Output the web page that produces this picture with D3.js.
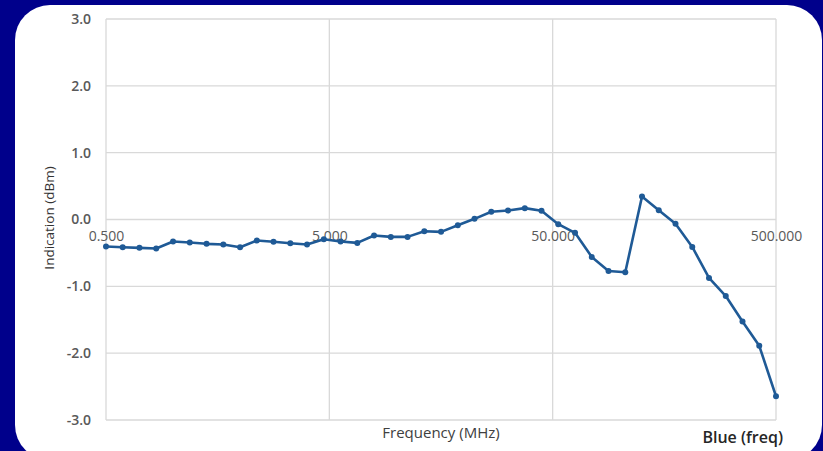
<!DOCTYPE html>
<html>
<head>
<meta charset="utf-8">
<script src="https://cdn.jsdelivr.net/npm/d3@7"></script>
<style>
    body { margin: 0; background: #00008b; }
    svg { display: block; }
</style>
</head>
<body>
<div id="chart"></div>
<script>
// frequencies in MHz (log spaced sweep) and the indication read at each one
var freqs = [0.5, 0.594, 0.706, 0.839, 0.998, 1.186, 1.41, 1.676, 1.992, 2.367,
    2.812, 3.343, 3.973, 4.722, 5.612, 6.67, 7.928, 9.423, 11.2, 13.31,
    15.82, 18.8, 22.34, 26.55, 31.55, 37.51, 44.57, 52.97, 62.96, 74.82,
    88.93, 105.7, 125.6, 149.3, 177.4, 210.9, 250.6, 297.9, 354.0, 420.7, 500];
var indication = [-0.405, -0.415, -0.424, -0.435, -0.33, -0.345, -0.364, -0.375, -0.415, -0.315,
    -0.334, -0.355, -0.375, -0.295, -0.33, -0.35, -0.24, -0.26, -0.26, -0.175,
    -0.185, -0.085, 0.01, 0.115, 0.135, 0.17, 0.13, -0.07, -0.2, -0.56,
    -0.77, -0.79, 0.345, 0.14, -0.065, -0.41, -0.875, -1.145, -1.525, -1.89, -2.645];
var xTicks = [0.5, 5, 50, 500];
var xTickLabels = ["0.500", "5.000", "50.000", "500.000"];
var yTicks = [-3, -2, -1, 0, 1, 2, 3];
var seriesName = "Blue (freq)";

var width = 823, height = 451;
var margin = {top: 19, bottom: 31, left: 106, right: 47};
var innerW = width - margin.left - margin.right;
var innerH = height - margin.top - margin.bottom;

var svg = d3.select("#chart")
    .append("svg")
    .attr("width", width)
    .attr("height", height)
    .style("font-family", "'Open Sans', sans-serif");

// white rounded panel
svg.append("rect")
    .attr("x", 15)
    .attr("y", 5)
    .attr("width", 807)
    .attr("height", 455)
    .attr("rx", 35)
    .attr("fill", "#ffffff");

var data = freqs.map(function(f, i) { return {freq: f, value: indication[i]}; });

var x = d3.scaleLog().domain([0.5, 500]).range([0, innerW]);
var y = d3.scaleLinear().domain([-3, 3]).range([innerH, 0]);

var g = svg.append("g")
    .attr("transform", "translate(" + margin.left + "," + margin.top + ")");

// grid (also forms the plot frame)
g.selectAll(".hgrid")
    .data(yTicks)
    .enter().append("line")
    .attr("class", "hgrid")
    .attr("x1", 0)
    .attr("x2", innerW)
    .attr("y1", function(d) { return y(d); })
    .attr("y2", function(d) { return y(d); })
    .attr("stroke", "#d9d9d9")
    .attr("stroke-width", 1.3);

g.selectAll(".vgrid")
    .data(xTicks)
    .enter().append("line")
    .attr("class", "vgrid")
    .attr("x1", function(d) { return x(d); })
    .attr("x2", function(d) { return x(d); })
    .attr("y1", 0)
    .attr("y2", innerH)
    .attr("stroke", "#d9d9d9")
    .attr("stroke-width", 1.3);

// y axis labels (plain hyphen for negatives, like the original)
var yAxis = d3.axisLeft(y)
    .tickValues(yTicks)
    .tickSize(0)
    .tickPadding(15)
    .tickFormat(function(d) { return d.toFixed(1); });

g.append("g")
    .attr("class", "y-axis")
    .call(yAxis)
    .call(function(a) { a.select(".domain").remove(); })
    .selectAll("text")
    .attr("fill", "#595959")
    .style("font-size", "14px")
    .style("font-weight", "600")
    .style("font-family", "'Open Sans', sans-serif");

// x axis labels sit on the zero line
var xAxis = d3.axisBottom(x)
    .tickValues(xTicks)
    .tickSize(0)
    .tickPadding(12)
    .tickFormat(function(d, i) { return xTickLabels[i]; });

g.append("g")
    .attr("class", "x-axis")
    .attr("transform", "translate(0," + y(0) + ")")
    .call(xAxis)
    .call(function(a) { a.select(".domain").remove(); })
    .selectAll("text")
    .attr("fill", "#595959")
    .style("font-size", "14px")
    .style("font-family", "'Open Sans', sans-serif");

// series
var line = d3.line()
    .x(function(d) { return x(d.freq); })
    .y(function(d) { return y(d.value); });

g.append("path")
    .datum(data)
    .attr("fill", "none")
    .attr("stroke", "#1f5a96")
    .attr("stroke-width", 2.6)
    .attr("stroke-linejoin", "round")
    .attr("d", line);

g.selectAll(".dot")
    .data(data)
    .enter().append("circle")
    .attr("class", "dot")
    .attr("cx", function(d) { return x(d.freq); })
    .attr("cy", function(d) { return y(d.value); })
    .attr("r", 3)
    .attr("fill", "#1f5a96");

// axis titles
svg.append("text")
    .attr("x", 441)
    .attr("y", 438)
    .attr("text-anchor", "middle")
    .attr("fill", "#404040")
    .style("font-size", "15px")
    .text("Frequency (MHz)");

svg.append("text")
    .attr("transform", "translate(54,218) rotate(-90)")
    .attr("text-anchor", "middle")
    .attr("fill", "#333333")
    .style("font-size", "13.5px")
    .text("Indication (dBm)");

// series label
svg.append("text")
    .attr("x", 783)
    .attr("y", 443)
    .attr("text-anchor", "end")
    .attr("fill", "#262626")
    .style("font-size", "16px")
    .style("font-weight", "600")
    .text(seriesName);
</script>
</body>
</html>
